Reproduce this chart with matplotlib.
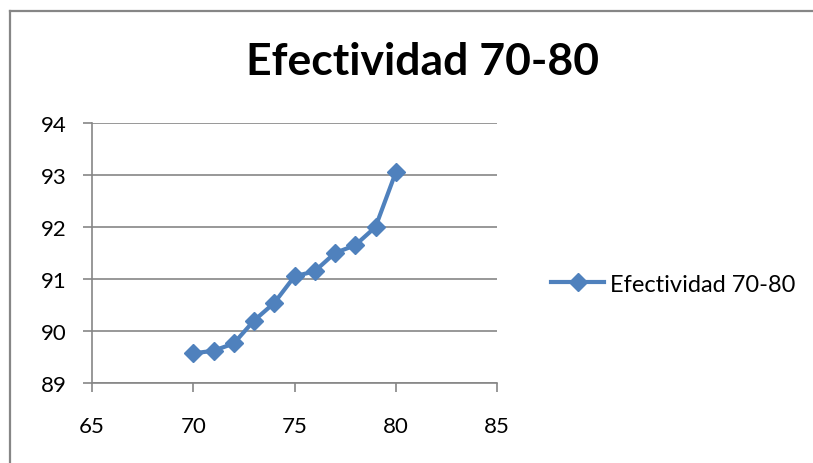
import matplotlib.pyplot as plt
from matplotlib.lines import Line2D

# datos
x_vals = [70, 71, 72, 73, 74, 75, 76, 77, 78, 79, 80]
efectividad = [89.57, 89.62, 89.76, 90.2, 90.54, 91.05, 91.15, 91.5, 91.65, 92.0, 93.05]
serie = 'Efectividad 70-80'
x_ticks = [65, 70, 75, 80, 85]
y_ticks = [89, 90, 91, 92, 93, 94]

plt.rcParams['font.family'] = ['Lato', 'DejaVu Sans']
azul = '#4F81BD'
gris = '#868686'

fig = plt.figure(figsize=(8.13, 4.64), dpi=100)
ax = fig.add_axes([92 / 813, 1 - 384 / 464, 405 / 813, 260 / 464])

ax.plot(x_vals, efectividad, color=azul, lw=3, marker='D', ms=9,
        markeredgecolor=azul, markerfacecolor=azul, solid_joinstyle='round')

ax.set_xlim(65, 85)
ax.set_ylim(89, 94)
ax.set_xticks(x_ticks)
ax.set_yticks(y_ticks)
ax.grid(axis='y', color=gris, lw=1.2)
ax.set_axisbelow(True)
for lado in ['top', 'right']:
    ax.spines[lado].set_visible(False)
for lado in ['left', 'bottom']:
    ax.spines[lado].set_color(gris)
    ax.spines[lado].set_linewidth(1.2)
ax.tick_params(direction='out', length=6.5, width=1.2, color=gris, labelsize=16)
ax.tick_params(axis='y', pad=12)
ax.tick_params(axis='x', pad=17)

# titulo
fig.text(423 / 813, 1 - 62 / 464, 'Efectividad 70-80', ha='center', va='center',
         fontsize=32, fontweight='bold')

# leyenda
h = Line2D([], [], color=azul, lw=3, marker='D', ms=9)
fig.legend([h], [serie], loc='center left', bbox_to_anchor=(551 / 813, 1 - 285 / 464),
           frameon=False, fontsize=17, handlelength=2.25, handletextpad=0.25,
           borderpad=0, borderaxespad=0)

# marco del grafico (solo arriba e izquierda visibles)
fig.add_artist(Line2D([10 / 813, 10 / 813], [0, 1 - 12 / 464], color=gris, lw=1.6,
                      transform=fig.transFigure))
fig.add_artist(Line2D([10 / 813, 1], [1 - 12 / 464, 1 - 12 / 464], color=gris, lw=1.6,
                      transform=fig.transFigure))

fig.savefig('out.png', dpi=100)
